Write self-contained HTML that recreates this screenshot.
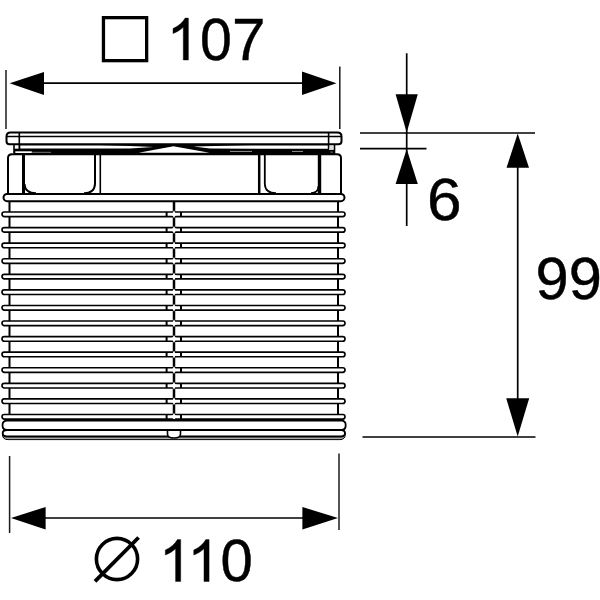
<!DOCTYPE html>
<html><head><meta charset="utf-8"><title>Dimension drawing</title>
<style>
html,body{margin:0;padding:0;background:#fff;}
body{width:600px;height:600px;overflow:hidden;}
svg{display:block;}
text{font-family:"Liberation Sans",sans-serif;fill:#000;stroke:#000;stroke-width:0.42px;}
</style></head><body>
<svg width="600" height="600" viewBox="0 0 600 600">
<defs><filter id="soft" x="0" y="0" width="600" height="600" filterUnits="userSpaceOnUse"><feGaussianBlur stdDeviation="0.4"/></filter></defs>
<rect width="600" height="600" fill="#fff"/>
<g filter="url(#soft)">

<g stroke="#1a1a1a" stroke-width="1.5" fill="none">
<line x1="6" y1="70" x2="6" y2="129"/>
<line x1="339.8" y1="66.5" x2="339.8" y2="129"/>
<line x1="9.6" y1="456" x2="9.6" y2="533"/>
<line x1="339" y1="453.6" x2="339" y2="530"/>
</g>
<g stroke="#000" stroke-width="1.7" fill="none">
<line x1="40" y1="83.2" x2="305" y2="83.2"/>
<line x1="40" y1="518" x2="305" y2="518"/>
<line x1="360" y1="133" x2="535" y2="133"/>
<line x1="360" y1="148.6" x2="426.5" y2="148.6"/>
<line x1="362.5" y1="437" x2="535.5" y2="437"/>
<line x1="406.7" y1="53.3" x2="406.7" y2="226"/>
<line x1="517.7" y1="140" x2="517.7" y2="430"/>
</g>
<g fill="#000">
<polygon points="9.6,83.3 44,72 44,95"/>
<polygon points="336.5,83.3 302,71.6 302,95"/>
<polygon points="11,518 45.6,507 45.6,529.4"/>
<polygon points="338,518 302.4,507 302.4,529.4"/>
<polygon points="406.7,132.5 395.6,94.3 417.8,94.3"/>
<polygon points="406.7,149 395.6,184 417.8,184"/>
<polygon points="517.7,133.5 506.5,167.7 529,167.7"/>
<polygon points="517.7,436.5 506.2,398.3 529.2,398.3"/>
</g>
<rect x="103.45" y="17.65" width="43.2" height="43" fill="none" stroke="#000" stroke-width="3.3"/>
<circle cx="117" cy="559" r="20.6" fill="none" stroke="#000" stroke-width="3.6"/>
<line x1="95" y1="581.4" x2="138.6" y2="537.5" stroke="#000" stroke-width="3.8"/>
<path transform="translate(166.68 60.00) scale(0.02846 -0.02846)" d="M763 0H583V1147Q518 1085 412.5 1023Q307 961 223 930V1104Q374 1175 487 1276Q600 1377 647 1472H763Z" fill="#000" stroke="#000" stroke-width="14"/>
<text transform="translate(199.91 59.80) scale(0.9873 1.0345)" font-size="58.0">0</text>
<text transform="translate(231.99 60.00) scale(1.0383 1.0295)" font-size="58.0">7</text>
<path transform="translate(158.98 581.50) scale(0.02846 -0.02846)" d="M763 0H583V1147Q518 1085 412.5 1023Q307 961 223 930V1104Q374 1175 487 1276Q600 1377 647 1472H763Z" fill="#000" stroke="#000" stroke-width="14"/>
<path transform="translate(187.38 581.50) scale(0.02846 -0.02846)" d="M763 0H583V1147Q518 1085 412.5 1023Q307 961 223 930V1104Q374 1175 487 1276Q600 1377 647 1472H763Z" fill="#000" stroke="#000" stroke-width="14"/>
<text transform="translate(220.38 581.30) scale(1.0018 1.0369)" font-size="58.0">0</text>
<text transform="translate(427.09 219.81) scale(1.0720 1.0248)" font-size="58.0">6</text>
<text transform="translate(535.62 299.01) scale(1.0271 1.0248)" font-size="58.0">9</text>
<text transform="translate(568.82 299.01) scale(1.0271 1.0248)" font-size="58.0">9</text>
<g stroke="#000" fill="none" stroke-width="2" stroke-linejoin="round">
<line x1="9.5" y1="201" x2="9.5" y2="416"/>
<line x1="338" y1="201" x2="338" y2="416"/>
<line x1="174" y1="201" x2="174" y2="419" stroke-width="2.5"/>
<path d="M10.5 132.4 H337.5 Q341.5 132.4 341.5 136.4 V141.2 Q341.5 144.2 338.5 144.2 H9.5 Q6.5 144.2 6.5 141.2 V136.4 Q6.5 132.4 10.5 132.4 Z" fill="#fff"/>
<line x1="7" y1="136.6" x2="341" y2="136.6" stroke-width="1.5"/>
<line x1="19.3" y1="132.4" x2="19.3" y2="149" stroke-width="1.6"/>
<line x1="328.6" y1="132.4" x2="328.6" y2="149" stroke-width="1.6"/>
<line x1="14" y1="144.5" x2="14" y2="153.5" stroke-width="1.6"/>
<line x1="334.5" y1="144.5" x2="334.5" y2="154" stroke-width="1.6"/>
</g>
<rect x="19.5" y="144.2" width="309.5" height="10.8" fill="#000"/>
<polygon fill="#fff" points="20.3,145.4 100,145.4 130,145.9 153.5,147.1 130,148.5 100,148.5 20.3,148.4"/>
<polygon fill="#fff" points="327.8,145.4 250,145.5 215,146.1 193.3,146.5 210,148.6 260,148.8 327.8,148.7"/>
<polygon fill="#fff" points="173.5,146.2 138.5,152.8 209.5,152.8"/>
<rect x="14" y="148.7" width="6" height="6" fill="#000"/>
<rect x="15.3" y="151.3" width="16.5" height="1.8" fill="#fff"/>
<rect x="328" y="149.8" width="6.5" height="5" fill="#000"/>
<rect x="329.7" y="146" width="3.4" height="3.3" fill="#ddd"/>
<rect x="330.5" y="151.6" width="2.2" height="1" fill="#888"/>
<line x1="32" y1="152.3" x2="51" y2="152.3" stroke="#999" stroke-width="0.8"/>
<line x1="230" y1="151.4" x2="252" y2="151.4" stroke="#999" stroke-width="1"/>
<line x1="292" y1="151.4" x2="303" y2="151.4" stroke="#999" stroke-width="1"/>
<g stroke="#000" fill="none" stroke-width="2" stroke-linejoin="round">
<path d="M8 194 V158 Q8 154.3 12 154.3 H337 Q341 154.3 341 158 V194"/>
<line x1="23.5" y1="154" x2="23.5" y2="194" stroke-width="3"/>
<line x1="319.5" y1="154" x2="319.5" y2="194" stroke-width="3.4"/>
<path d="M24.5 184 Q25 193.2 36 193.2 M95 154 V184 Q94.5 193.2 84 193.2" stroke-width="2"/>
<line x1="100.3" y1="154" x2="100.3" y2="194" stroke-width="1.6"/>
<line x1="259.2" y1="154" x2="259.2" y2="194" stroke-width="2.5"/>
<path d="M264.8 154 V184 Q265.2 193.2 276 193.2 M318.5 186 Q318.3 193 311 193.2" stroke-width="1.8"/>
<rect x="3.5" y="194" width="341" height="7.2" rx="3.6" fill="#fff"/>
</g>
<g stroke="#000" fill="#fff" stroke-width="1.65">
<rect x="2" y="212.00" width="343" height="4.6" rx="2.3"/>
<rect x="2" y="227.58" width="343" height="4.6" rx="2.3"/>
<rect x="2" y="243.15" width="343" height="4.6" rx="2.3"/>
<rect x="2" y="258.73" width="343" height="4.6" rx="2.3"/>
<rect x="2" y="274.31" width="343" height="4.6" rx="2.3"/>
<rect x="2" y="289.88" width="343" height="4.6" rx="2.3"/>
<rect x="2" y="305.46" width="343" height="4.6" rx="2.3"/>
<rect x="2" y="321.04" width="343" height="4.6" rx="2.3"/>
<rect x="2" y="336.62" width="343" height="4.6" rx="2.3"/>
<rect x="2" y="352.19" width="343" height="4.6" rx="2.3"/>
<rect x="2" y="367.77" width="343" height="4.6" rx="2.3"/>
<rect x="2" y="383.35" width="343" height="4.6" rx="2.3"/>
<rect x="2" y="398.92" width="343" height="4.6" rx="2.3"/>
<rect x="2" y="414.50" width="343" height="4.6" rx="2.3"/>
</g>
<g stroke="#000" stroke-width="2">
<line x1="166.6" y1="212.00" x2="166.6" y2="216.60"/><line x1="181" y1="212.00" x2="181" y2="216.60"/>
<line x1="166.6" y1="227.58" x2="166.6" y2="232.18"/><line x1="181" y1="227.58" x2="181" y2="232.18"/>
<line x1="166.6" y1="243.15" x2="166.6" y2="247.75"/><line x1="181" y1="243.15" x2="181" y2="247.75"/>
<line x1="166.6" y1="258.73" x2="166.6" y2="263.33"/><line x1="181" y1="258.73" x2="181" y2="263.33"/>
<line x1="166.6" y1="274.31" x2="166.6" y2="278.91"/><line x1="181" y1="274.31" x2="181" y2="278.91"/>
<line x1="166.6" y1="289.88" x2="166.6" y2="294.49"/><line x1="181" y1="289.88" x2="181" y2="294.49"/>
<line x1="166.6" y1="305.46" x2="166.6" y2="310.06"/><line x1="181" y1="305.46" x2="181" y2="310.06"/>
<line x1="166.6" y1="321.04" x2="166.6" y2="325.64"/><line x1="181" y1="321.04" x2="181" y2="325.64"/>
<line x1="166.6" y1="336.62" x2="166.6" y2="341.22"/><line x1="181" y1="336.62" x2="181" y2="341.22"/>
<line x1="166.6" y1="352.19" x2="166.6" y2="356.79"/><line x1="181" y1="352.19" x2="181" y2="356.79"/>
<line x1="166.6" y1="367.77" x2="166.6" y2="372.37"/><line x1="181" y1="367.77" x2="181" y2="372.37"/>
<line x1="166.6" y1="383.35" x2="166.6" y2="387.95"/><line x1="181" y1="383.35" x2="181" y2="387.95"/>
<line x1="166.6" y1="398.92" x2="166.6" y2="403.52"/><line x1="181" y1="398.92" x2="181" y2="403.52"/>
<line x1="166.6" y1="414.50" x2="166.6" y2="419.10"/><line x1="181" y1="414.50" x2="181" y2="419.10"/>
</g>
<g fill="#fff">
<polygon points="174,210.30 175.3,213.00 179.6,214.30 175.3,215.60 174,218.30 172.7,215.60 168.4,214.30 172.7,213.00"/>
<polygon points="174,225.88 175.3,228.58 179.6,229.88 175.3,231.18 174,233.88 172.7,231.18 168.4,229.88 172.7,228.58"/>
<polygon points="174,241.45 175.3,244.15 179.6,245.45 175.3,246.75 174,249.45 172.7,246.75 168.4,245.45 172.7,244.15"/>
<polygon points="174,257.03 175.3,259.73 179.6,261.03 175.3,262.33 174,265.03 172.7,262.33 168.4,261.03 172.7,259.73"/>
<polygon points="174,272.61 175.3,275.31 179.6,276.61 175.3,277.91 174,280.61 172.7,277.91 168.4,276.61 172.7,275.31"/>
<polygon points="174,288.19 175.3,290.88 179.6,292.19 175.3,293.49 174,296.19 172.7,293.49 168.4,292.19 172.7,290.88"/>
<polygon points="174,303.76 175.3,306.46 179.6,307.76 175.3,309.06 174,311.76 172.7,309.06 168.4,307.76 172.7,306.46"/>
<polygon points="174,319.34 175.3,322.04 179.6,323.34 175.3,324.64 174,327.34 172.7,324.64 168.4,323.34 172.7,322.04"/>
<polygon points="174,334.92 175.3,337.62 179.6,338.92 175.3,340.22 174,342.92 172.7,340.22 168.4,338.92 172.7,337.62"/>
<polygon points="174,350.49 175.3,353.19 179.6,354.49 175.3,355.79 174,358.49 172.7,355.79 168.4,354.49 172.7,353.19"/>
<polygon points="174,366.07 175.3,368.77 179.6,370.07 175.3,371.37 174,374.07 172.7,371.37 168.4,370.07 172.7,368.77"/>
<polygon points="174,381.65 175.3,384.35 179.6,385.65 175.3,386.95 174,389.65 172.7,386.95 168.4,385.65 172.7,384.35"/>
<polygon points="174,397.22 175.3,399.92 179.6,401.22 175.3,402.52 174,405.22 172.7,402.52 168.4,401.22 172.7,399.92"/>
<polygon points="174,412.80 175.3,415.50 179.6,416.80 175.3,418.10 174,420.80 172.7,418.10 168.4,416.80 172.7,415.50"/>
</g>
<g stroke="#000" fill="#fff" stroke-width="1.8">
<rect x="16" y="419" width="318" height="1.8" fill="#000" stroke="none"/>
<path d="M7 420.7 H341.5 Q345.7 420.7 345.7 425.3 Q345.7 430 341.5 430 H7 Q2.5 430 2.5 425.3 Q2.5 420.7 7 420.7 Z"/>
<path d="M7 430 H341 Q345.2 430 345.2 434.5 Q345.2 439.6 340 439.6 H8 Q2.5 439.6 2.5 434.5 Q2.5 430 7 430 Z" fill="#aaa" stroke-width="1"/>
<path d="M7 430 H341 Q345 430 345 433.3 Q345 436.5 341 436.5 H7 Q2.7 436.5 2.7 433.3 Q2.7 430 7 430 Z" stroke-width="1.9"/>
<path d="M167.5 431 V434 Q167.5 438 174 438 Q180.5 438 180.5 434 V431" stroke-width="1.6"/>
</g>
</g></svg></body></html>
